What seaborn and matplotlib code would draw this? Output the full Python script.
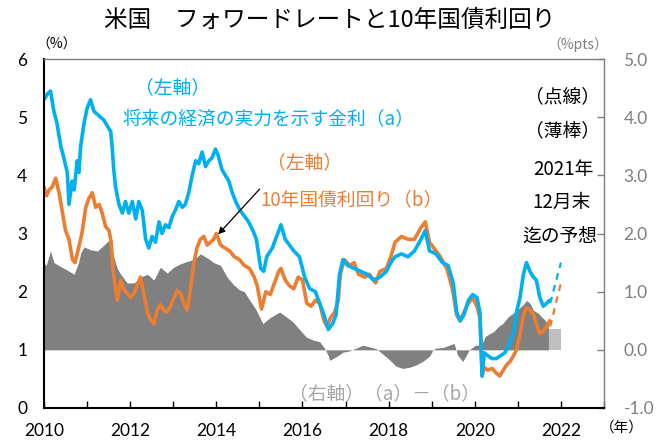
import matplotlib
matplotlib.use("Agg")
import matplotlib.pyplot as plt
import seaborn as sns
import numpy as np
import pandas as pd

# ---- data (decimal years) ----
a_dates = [2010.00, 2010.08, 2010.15, 2010.23, 2010.30, 2010.39, 2010.46, 2010.54, 2010.58, 2010.65,
           2010.70, 2010.77, 2010.81, 2010.85, 2010.93, 2011.00, 2011.08, 2011.16, 2011.24, 2011.31,
           2011.39, 2011.47, 2011.55, 2011.58, 2011.62, 2011.66, 2011.74, 2011.82, 2011.89, 2011.97,
           2012.05, 2012.13, 2012.20, 2012.28, 2012.36, 2012.43, 2012.51, 2012.59, 2012.67, 2012.74,
           2012.82, 2012.90, 2012.98, 2013.05, 2013.13, 2013.21, 2013.28, 2013.36, 2013.44, 2013.52,
           2013.59, 2013.67, 2013.75, 2013.83, 2013.90, 2013.98, 2014.04, 2014.13, 2014.21, 2014.29,
           2014.37, 2014.45, 2014.55, 2014.65, 2014.75, 2014.85, 2014.93, 2015.03, 2015.10, 2015.17,
           2015.30, 2015.40, 2015.50, 2015.60, 2015.70, 2015.80, 2015.93, 2016.05, 2016.17, 2016.30,
           2016.40, 2016.50, 2016.60, 2016.70, 2016.78, 2016.86, 2016.94, 2017.05, 2017.20, 2017.35,
           2017.50, 2017.65, 2017.80, 2017.95, 2018.05, 2018.15, 2018.30, 2018.45, 2018.60, 2018.75,
           2018.85, 2018.95, 2019.10, 2019.25, 2019.38, 2019.50, 2019.58, 2019.66, 2019.75, 2019.85,
           2019.95, 2020.05, 2020.12, 2020.17, 2020.22, 2020.30, 2020.40, 2020.50, 2020.60, 2020.70,
           2020.80, 2020.90, 2020.97, 2021.05, 2021.13, 2021.20, 2021.28, 2021.36, 2021.43, 2021.51,
           2021.59, 2021.67, 2021.73]
a_vals = [5.30, 5.40, 5.45, 5.10, 4.90, 4.50, 4.30, 4.05, 3.50, 3.90,
          3.75, 4.25, 4.05, 4.50, 4.90, 5.15, 5.30, 5.10, 5.05, 5.00,
          4.95, 4.85, 4.75, 4.50, 4.10, 3.80, 3.50, 3.35, 3.55, 3.35,
          3.55, 3.25, 3.55, 3.40, 2.90, 2.75, 2.95, 2.85, 3.20, 3.00,
          3.15, 3.10, 3.30, 3.40, 3.55, 3.45, 3.50, 3.70, 4.00, 4.25,
          4.20, 4.40, 4.15, 4.25, 4.30, 4.45, 4.35, 4.10, 4.00, 3.90,
          3.70, 3.55, 3.40, 3.30, 3.20, 3.05, 2.90, 2.40, 2.35, 2.60,
          2.75, 2.95, 3.15, 2.90, 2.80, 2.70, 2.60, 2.25, 2.05, 2.00,
          1.80, 1.60, 1.35, 1.45, 1.60, 2.30, 2.55, 2.45, 2.40, 2.35,
          2.30, 2.20, 2.25, 2.35, 2.50, 2.60, 2.65, 2.60, 2.70, 2.90,
          3.05, 2.70, 2.65, 2.50, 2.45, 2.15, 1.65, 1.50, 1.60, 1.85,
          1.95, 1.90, 1.65, 0.55, 0.95, 0.90, 0.85, 0.85, 0.90, 0.95,
          1.10, 1.30, 1.65, 1.90, 2.30, 2.50, 2.35, 2.25, 2.20, 1.90,
          1.75, 1.80, 1.85]

b_dates = [2010.00, 2010.06, 2010.12, 2010.19, 2010.27, 2010.35, 2010.43, 2010.50, 2010.58, 2010.66,
           2010.72, 2010.77, 2010.85, 2010.89, 2010.97, 2011.04, 2011.12, 2011.20, 2011.28, 2011.35,
           2011.43, 2011.51, 2011.56, 2011.60, 2011.66, 2011.70, 2011.78, 2011.85, 2011.93, 2012.01,
           2012.09, 2012.16, 2012.24, 2012.32, 2012.40, 2012.47, 2012.55, 2012.63, 2012.70, 2012.78,
           2012.86, 2012.94, 2013.01, 2013.09, 2013.17, 2013.25, 2013.32, 2013.40, 2013.48, 2013.55,
           2013.63, 2013.71, 2013.79, 2013.86, 2013.94, 2014.00, 2014.10, 2014.20, 2014.31, 2014.42,
           2014.54, 2014.65, 2014.77, 2014.88, 2014.95, 2015.05, 2015.15, 2015.25, 2015.35, 2015.45,
           2015.50, 2015.60, 2015.70, 2015.80, 2015.90, 2016.00, 2016.10, 2016.20, 2016.30, 2016.40,
           2016.50, 2016.57, 2016.65, 2016.75, 2016.83, 2016.88, 2016.97, 2017.10, 2017.20, 2017.30,
           2017.45, 2017.55, 2017.70, 2017.80, 2017.95, 2018.05, 2018.15, 2018.30, 2018.45, 2018.60,
           2018.75, 2018.85, 2018.95, 2019.10, 2019.20, 2019.35, 2019.48, 2019.58, 2019.66, 2019.75,
           2019.85, 2019.95, 2020.05, 2020.12, 2020.17, 2020.22, 2020.30, 2020.40, 2020.50, 2020.58,
           2020.66, 2020.75, 2020.82, 2020.90, 2020.97, 2021.05, 2021.13, 2021.20, 2021.28, 2021.36,
           2021.45, 2021.51, 2021.59, 2021.67, 2021.74]
b_vals = [3.80, 3.65, 3.75, 3.80, 3.95, 3.70, 3.35, 3.05, 2.90, 2.55,
          2.50, 2.65, 2.90, 3.05, 3.45, 3.60, 3.70, 3.45, 3.50, 3.35,
          3.12, 3.05, 2.85, 2.40, 2.05, 1.85, 2.20, 2.05, 1.97, 1.90,
          1.97, 2.10, 2.25, 1.95, 1.65, 1.52, 1.45, 1.68, 1.78, 1.68,
          1.65, 1.75, 1.88, 2.02, 1.97, 1.80, 1.68, 2.03, 2.50, 2.75,
          2.90, 2.95, 2.80, 2.85, 2.90, 3.00, 2.80, 2.75, 2.70, 2.60,
          2.55, 2.45, 2.40, 2.25, 2.10, 1.70, 2.00, 1.95, 2.15, 2.35,
          2.40, 2.20, 2.10, 2.05, 2.25, 2.20, 1.80, 1.75, 1.85, 1.80,
          1.50, 1.40, 1.55, 1.65, 1.85, 2.30, 2.55, 2.45, 2.50, 2.30,
          2.25, 2.30, 2.15, 2.35, 2.40, 2.60, 2.85, 2.95, 2.90, 2.90,
          3.10, 3.20, 2.85, 2.70, 2.60, 2.40, 2.05, 1.60, 1.50, 1.65,
          1.80, 1.90, 1.75, 1.55, 0.55, 0.70, 0.65, 0.68, 0.60, 0.55,
          0.65, 0.75, 0.80, 0.90, 1.00, 1.25, 1.60, 1.72, 1.68, 1.62,
          1.40, 1.28, 1.32, 1.40, 1.50]

spread_dates = [2010.00, 2010.05, 2010.15, 2010.23, 2010.39, 2010.54, 2010.70, 2010.80, 2010.85, 2010.93,
                2011.08, 2011.24, 2011.39, 2011.50, 2011.55, 2011.62, 2011.70, 2011.78, 2011.93, 2012.09,
                2012.24, 2012.40, 2012.55, 2012.70, 2012.86, 2013.01, 2013.17, 2013.32, 2013.48, 2013.63,
                2013.79, 2013.94, 2014.10, 2014.25, 2014.40, 2014.54, 2014.65, 2014.77, 2014.93, 2015.08,
                2015.24, 2015.40, 2015.47, 2015.62, 2015.78, 2015.93, 2016.09, 2016.24, 2016.40, 2016.51,
                2016.60, 2016.63, 2016.78, 2016.94, 2017.09, 2017.25, 2017.40, 2017.56, 2017.71, 2017.86,
                2018.02, 2018.17, 2018.33, 2018.48, 2018.64, 2018.79, 2018.95, 2019.03, 2019.10, 2019.26,
                2019.41, 2019.52, 2019.60, 2019.72, 2019.80, 2019.87, 2020.02, 2020.13, 2020.20, 2020.24,
                2020.35, 2020.43, 2020.55, 2020.66, 2020.78, 2020.89, 2021.01, 2021.13, 2021.20, 2021.28,
                2021.36, 2021.47, 2021.55, 2021.63, 2021.71]
spread_vals = [1.50, 1.45, 1.70, 1.50, 1.43, 1.37, 1.30, 1.50, 1.66, 1.77,
               1.72, 1.70, 1.80, 1.88, 1.80, 1.60, 1.40, 1.30, 1.15, 1.15,
               1.25, 1.30, 1.20, 1.42, 1.32, 1.42, 1.48, 1.52, 1.55, 1.65,
               1.58, 1.50, 1.45, 1.25, 1.12, 1.03, 1.00, 0.86, 0.68, 0.45,
               0.55, 0.62, 0.65, 0.57, 0.48, 0.35, 0.22, 0.17, 0.14, 0.03,
               -0.10, -0.18, -0.12, -0.04, -0.02, 0.03, 0.08, 0.05, 0.02, -0.07,
               -0.17, -0.28, -0.32, -0.30, -0.26, -0.20, -0.11, 0.00, 0.03, 0.04,
               0.08, 0.11, -0.09, -0.20, -0.10, 0.00, 0.08, 0.08, 0.15, 0.23,
               0.28, 0.31, 0.40, 0.46, 0.57, 0.63, 0.70, 0.78, 0.85, 0.80,
               0.68, 0.63, 0.57, 0.51, 0.43]

fc_dates = [2021.75, 2022.00]
a_fc = [1.80, 2.50]
b_fc = [1.40, 2.15]
fc_spread_start = 2021.72
fc_spread_end = 2022.00
fc_spread = 0.35

x_ticks = list(range(2010, 2024))
x_labels = [str(y) if y % 2 == 0 and y <= 2022 else "" for y in x_ticks]
left_ticks = [0, 1, 2, 3, 4, 5, 6]
right_ticks = [-1.0, 0.0, 1.0, 2.0, 3.0, 4.0, 5.0]

BLUE = "#00B0F0"
ORANGE = "#ED7D31"
GRAY = "#808080"
LGRAY = "#BFBFBF"
TGRAY = "#7F7F7F"

sns.set_theme(style="white")
plt.rcParams['font.family'] = ['Noto Sans CJK JP', 'DejaVu Sans']
JP = ['Noto Sans CJK JP', 'DejaVu Sans']
NUM = ['Lato', 'DejaVu Sans']

W, H = 658, 442
fig = plt.figure(figsize=(W / 100, H / 100), dpi=100)
ax = fig.add_axes([44 / W, 1 - 408 / H, (604 - 44) / W, (408 - 59) / H])
ax2 = ax.twinx()
ax.set_zorder(ax2.get_zorder() + 1)
ax.patch.set_visible(False)

# spread area (right axis)
ax2.fill_between(spread_dates, 0, spread_vals, color=GRAY, linewidth=0)
ax2.bar([fc_spread_start], [fc_spread], width=fc_spread_end - fc_spread_start,
        align='edge', color=LGRAY, linewidth=0)

# lines (left axis)
df_a = pd.DataFrame({"date": a_dates, "val": a_vals})
df_b = pd.DataFrame({"date": b_dates, "val": b_vals})
sns.lineplot(data=df_b, x="date", y="val", ax=ax, color=ORANGE, linewidth=2.6, estimator=None)
sns.lineplot(data=df_a, x="date", y="val", ax=ax, color=BLUE, linewidth=2.6, estimator=None)
sns.lineplot(x=fc_dates, y=a_fc, ax=ax, color=BLUE, linewidth=1.6, linestyle=(0, (3, 2.5)), estimator=None)
sns.lineplot(x=fc_dates, y=b_fc, ax=ax, color=ORANGE, linewidth=1.6, linestyle=(0, (3, 2.5)), estimator=None)

ax.set_xlim(2010, 2023)
ax.set_ylim(0, 6)
ax2.set_ylim(-1, 5)
ax.set_xlabel("")
ax.set_ylabel("")

ax.set_xticks(x_ticks)
ax.set_xticklabels(x_labels, fontfamily=NUM, fontsize=12.5, color="black")
ax.set_yticks(left_ticks)
ax.set_yticklabels([str(v) for v in left_ticks], fontfamily=NUM, fontsize=12.5, color="black")
ax2.set_yticks(right_ticks)
ax2.set_yticklabels([f"{v:.1f}" for v in right_ticks], fontfamily=NUM, fontsize=12.5, color=TGRAY)

ax.tick_params(axis='x', direction='in', length=5, width=1, color='black', pad=11, bottom=True)
ax.tick_params(axis='y', left=False, length=0, pad=12)
ax2.tick_params(axis='y', direction='in', length=5, width=1, color=TGRAY, pad=14, right=True)

for s in ['left', 'bottom']:
    ax.spines[s].set_color('black')
    ax.spines[s].set_linewidth(1.5)
for s in ['top', 'right']:
    ax.spines[s].set_color(TGRAY)
    ax.spines[s].set_linewidth(1.0)
for s in ax2.spines.values():
    s.set_visible(False)
ax.spines['top'].set_visible(True)
ax.spines['right'].set_visible(True)

def ft(x, y, s, **kw):
    fig.text(x / W, 1 - y / H, s, ha='center', va='center', **kw)

ft(330, 20, "米国　フォワードレートと10年国債利回り", fontsize=17, family=JP, color='black')
ft(57, 45, "（%）", fontsize=10, family=JP, color='black')
ft(578, 45, "（%pts）", fontsize=10, family=JP, color=TGRAY)
ft(172, 88, "（左軸）", fontsize=13.5, family=JP, color=BLUE)
ft(268, 120, "将来の経済の実力を示す金利（a）", fontsize=13.5, family=JP, color=BLUE)
ft(305, 163, "（左軸）", fontsize=13.5, family=JP, color=ORANGE)
ft(352, 200, "10年国債利回り（b）", fontsize=13.5, family=JP, color=ORANGE)
ft(562, 97, "（点線）", fontsize=13.5, family=JP, color='black')
ft(562, 132, "（薄棒）", fontsize=13.5, family=JP, color='black')
ft(563, 169, "2021年", fontsize=13.5, family=JP, color='black')
ft(562, 202, "12月末", fontsize=13.5, family=JP, color='black')
ft(560, 237, "迄の予想", fontsize=13.5, family=JP, color='black')
ft(384, 394, "（右軸）（a）－（b）", fontsize=13.5, family=JP, color="#A6A6A6")
ft(622, 428, "（年）", fontsize=10.5, family=JP, color='black')

# arrow
ax.annotate("", xy=(2014.0, 2.95), xytext=(2015.05, 3.80),
            arrowprops=dict(arrowstyle='-|>', color='black', lw=0.9, mutation_scale=10))

fig.savefig("out.png", dpi=100)
